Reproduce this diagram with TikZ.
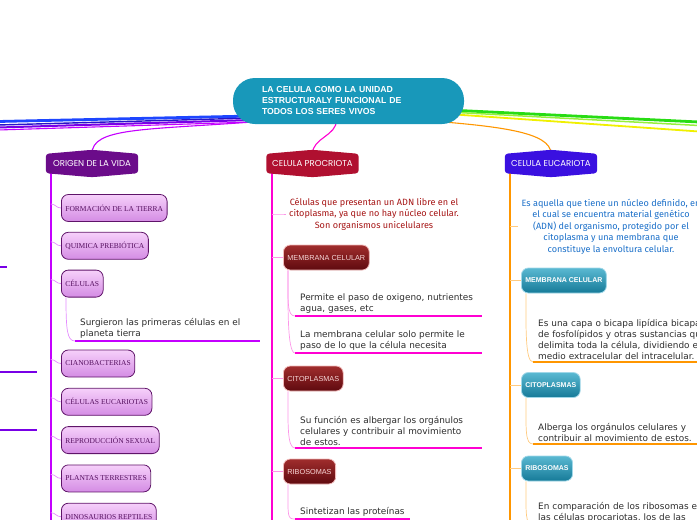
\documentclass[tikz,border=0pt]{standalone}
\usepackage{fontspec}
\setmainfont{DejaVu Sans}
\newfontfamily\rootfont{Liberation Sans}
\newfontfamily\headfont{Poppins}
\newfontfamily\tagfont{Liberation Serif}
\newfontfamily\notefont{Fira Sans}
\usepackage{tikz}
\usetikzlibrary{positioning,backgrounds,calc}

\definecolor{rootblue}{RGB}{24,152,186}
\definecolor{origpurple}{RGB}{107,12,138}
\definecolor{procrim}{RGB}{176,16,48}
\definecolor{euviolet}{RGB}{58,16,224}
\definecolor{ovio}{RGB}{196,0,255}
\definecolor{promag}{RGB}{255,0,210}
\definecolor{prolight}{RGB}{252,150,232}
\definecolor{eorange}{RGB}{255,150,0}
\definecolor{oboxtop}{RGB}{246,208,250}
\definecolor{oboxbot}{RGB}{212,140,228}
\definecolor{oboxline}{RGB}{95,20,105}
\definecolor{oboxtext}{RGB}{85,15,95}
\definecolor{pboxtop}{RGB}{160,45,45}
\definecolor{pboxbot}{RGB}{95,10,15}
\definecolor{pboxline}{RGB}{240,185,185}
\definecolor{pboxtext}{RGB}{248,215,215}
\definecolor{eboxtop}{RGB}{90,185,210}
\definecolor{eboxbot}{RGB}{22,122,152}
\definecolor{eboxline}{RGB}{160,215,232}
\definecolor{leafgray}{RGB}{45,45,45}
\definecolor{prored}{RGB}{165,20,20}
\definecolor{eublue}{RGB}{25,110,200}
\definecolor{lnkblue}{RGB}{30,70,255}
\definecolor{lnknavy}{RGB}{40,20,200}
\definecolor{lnkpurple}{RGB}{120,0,230}
\definecolor{lnkgreen}{RGB}{40,220,20}
\definecolor{lnklime}{RGB}{150,240,60}
\definecolor{lnkyellow}{RGB}{240,240,0}

\begin{document}
\begin{tikzpicture}[
    x=1pt, y=-1pt,
    root/.style={rounded corners=22pt, fill=rootblue, text=white, align=left, text width=173pt, inner xsep=29pt, inner ysep=0pt, minimum height=46pt, font=\rootfont\bfseries\fontsize{8.7}{11}\selectfont},
    hexa/.style={text=white, minimum width=92pt, minimum height=19pt, inner sep=0pt, font=\headfont\fontsize{8.6}{9}\selectfont},
    obox/.style={anchor=west, draw=oboxline, line width=0.8pt, rounded corners=7pt, top color=oboxtop, bottom color=oboxbot, text=oboxtext, minimum height=27pt, inner xsep=4pt, font=\tagfont\fontsize{7.5}{9}\selectfont},
    pbox/.style={anchor=west, draw=pboxline, line width=0.8pt, rounded corners=7pt, top color=pboxtop, bottom color=pboxbot, text=pboxtext, minimum height=25pt, inner xsep=4pt, font=\rootfont\fontsize{7.3}{9}\selectfont},
    ebox/.style={pbox, draw=eboxline, top color=eboxtop, bottom color=eboxbot, text=white, font=\rootfont\bfseries\fontsize{7}{9}\selectfont},
    leaf/.style={anchor=south west, align=left, inner xsep=5pt, inner ysep=2.5pt, text=leafgray, font=\fontsize{8.9}{11}\selectfont},
    note/.style={align=center, font=\notefont\fontsize{9.1}{11.5}\selectfont},
    spine/.style={line width=2pt},
    otwig/.style={draw=ovio!45, line width=0.7pt},
    ptwig/.style={draw=prolight, line width=0.7pt},
    etwig/.style={draw=eorange!50, line width=0.7pt},
    oline/.style={draw=ovio, line width=2.5pt},
    pline/.style={draw=promag, line width=2.5pt},
    eline/.style={draw=eorange, line width=2.5pt}
]
    \useasboundingbox (0,0) rectangle (697,520);
    \clip (0,0) rectangle (697,520);

    % central topic and main branches
    \node[root] (root) at (348.5,101) {LA CELULA COMO LA UNIDAD\\ESTRUCTURALY FUNCIONAL DE\\TODOS LOS SERES VIVOS};
    \node[hexa] (origen) at (92,163.5) {ORIGEN DE LA VIDA};
    \node[hexa] (prokar) at (312.5,163.5) {CELULA PROCRIOTA};
    \node[hexa] (eukar) at (551,163.5) {CELULA EUCARIOTA};

    \coordinate (rl) at ([shift={(-96,16)}]root.center);
    \coordinate (rr) at ([shift={(100,11)}]root.center);
    \coordinate (rb) at ([shift={(-12,19)}]root.center);
    \coordinate (rbr) at ([shift={(70,19)}]root.center);
    \coordinate (offA) at (-2,121.5);
    \coordinate (offB) at (-2,125);
    \coordinate (offC) at (-2,127.5);
    \coordinate (offD) at (-2,130);
    \coordinate (offE) at (699,122);
    \coordinate (offF) at (699,125.5);
    \coordinate (offG) at (699,131.5);
    \coordinate (oSp) at ([xshift=5pt]origen.south west);
    \coordinate (pSp) at ([xshift=5.5pt]prokar.south west);
    \coordinate (eSp) at ([xshift=5pt]eukar.south west);

    % ORIGEN DE LA VIDA
    \node[obox] (fm) at (61,208) {FORMACIÓN DE LA TIERRA};
    \node[obox, below=10pt of fm.south west, anchor=north west] (qp) {QUIMICA PREBIÓTICA};
    \node[obox, below=10pt of qp.south west, anchor=north west] (cel) {CÉLULAS};
    \node[leaf, text width=175pt] (ocl) at (75,341) {Surgieron las primeras células en el\\planeta tierra};
    \node[obox] (cia) at (61,363.5) {CIANOBACTERIAS};
    \node[obox, below=10.5pt of cia.south west, anchor=north west] (ceu) {CÉLULAS EUCARIOTAS};
    \node[obox, below=10.5pt of ceu.south west, anchor=north west] (rep) {REPRODUCCIÓN SEXUAL};
    \node[obox, below=10.5pt of rep.south west, anchor=north west] (pla) {PLANTAS TERRESTRES};
    \node[obox, below=10.5pt of pla.south west, anchor=north west] (din) {DINOSAURIOS REPTILES};

    % CELULA PROCRIOTA
    \node[note, text=prored] (pdesc) at (374,214) {Células que presentan un ADN libre en el\\citoplasma, ya que no hay núcleo celular.\\Son organismos unicelulares};
    \node[pbox] (pmem) at (283,257.5) {MEMBRANA CELULAR};
    \node[leaf, text width=177pt] (pm1) at (295,316) {Permite el paso de oxigeno, nutrientes\\agua, gases, etc};
    \node[leaf, text width=177pt] (pm2) at (295,353) {La membrana celular solo permite le\\paso de lo que la célula necesita};
    \node[pbox] (pcit) at (283,378.5) {CITOPLASMAS};
    \node[leaf, text width=177pt] (pc1) at (295,448) {Su función es albergar los orgánulos\\celulares y contribuir al movimiento\\de estos.};
    \node[pbox] (prib) at (283,471.5) {RIBOSOMAS};
    \node[leaf] (pr1) at (295,519) {Sintetizan las proteínas};

    % CELULA EUCARIOTA
    \node[note, text=eublue] (edesc) at (611,226.5) {Es aquella que tiene un núcleo definido, en\\el cual se encuentra material genético\\(ADN) del organismo, protegido por el\\citoplasma y una membrana que\\constituye la envoltura celular.};
    \node[ebox] (emem) at (521,280.5) {MEMBRANA CELULAR};
    \node[leaf, text width=200pt] (em1) at (533,362) {Es una capa o bicapa lipídica bicapa\\de fosfolípidos y otras sustancias que\\delimita toda la célula, dividiendo el\\medio extracelular del intracelular.};
    \node[ebox] (ecit) at (521,385) {CITOPLASMAS};
    \node[leaf, text width=200pt] (ec1) at (533,444) {Alberga los orgánulos celulares y\\contribuir al movimiento de estos.};
    \node[ebox] (erib) at (521,468.5) {RIBOSOMAS};
    \node[leaf, text width=200pt] (er1) at (533,525) {En comparación de los ribosomas en\\las células procariotas, los de las};

    % all connectors behind the shapes
    \begin{scope}[on background layer]
        % spines
        \foreach \s/\c in {oSp/ovio, pSp/promag, eSp/eorange}
            \draw[spine, \c] (\s) -- ++(0,355);

        % twigs from the spines
        \foreach \n in {fm,qp,cel,cia,ceu,rep,pla,din}
            \draw[otwig] ([yshift=4pt]oSp |- \n.west) .. controls +(5,0) and +(-5,0) .. (\n.west);
        \foreach \n in {pdesc,pmem,pcit,prib}
            \draw[ptwig] (pSp |- \n.west) .. controls +(5,0) and +(-5,0) .. (\n.west);
        \foreach \n in {edesc,emem,ecit,erib}
            \draw[etwig] (eSp |- \n.west) .. controls +(5,0) and +(-5,0) .. (\n.west);

        % leaves under their boxes
        \draw[otwig] ([xshift=5pt]cel.south west) .. controls +(0,32) and +(-8,0) .. (ocl.south west);
        \foreach \b/\n in {pmem/pm1, pmem/pm2, pcit/pc1, prib/pr1}
            \draw[ptwig] ([xshift=5pt]\b.south west) .. controls +(0,32) and +(-8,0) .. (\n.south west);
        \foreach \b/\n in {emem/em1, ecit/ec1, erib/er1}
            \draw[etwig] ([xshift=5pt]\b.south west) .. controls +(0,32) and +(-8,0) .. (\n.south west);

        % links from the central topic
        \draw[line width=2.8pt, lnkblue] ([yshift=1pt]rl) -- (offA);
        \draw[line width=1.4pt, lnknavy] ([yshift=-1pt]rl) -- (offB);
        \draw[line width=2pt, lnkpurple] ([yshift=-3pt]rl) -- (offC);
        \draw[line width=1.1pt, ovio] ([yshift=-5pt]rl) -- (offD);
        \draw[line width=2.8pt, lnkgreen] ([yshift=2pt]rr) -- (offE);
        \draw[line width=1.5pt, lnklime] (rr) -- (offF);
        \draw[line width=1.8pt, lnkyellow] ([yshift=-2pt]rr) -- (offG);
        \draw[line width=1.1pt, ovio] ([yshift=-5pt]rl) .. controls +(-110,8) and +(0,-26) .. (origen.north);
        \draw[line width=1.1pt, promag] (rb) .. controls +(0,16) and +(0,-16) .. (prokar.north);
        \draw[line width=1.1pt, eorange] (rbr) .. controls +(80,6) and +(0,-22) .. (eukar.north);
        \foreach \n/\c in {origen/origpurple, prokar/procrim, eukar/euviolet}
            \fill[\c, rounded corners=3pt] (\n.north west) -- ([yshift=4pt]\n.north) -- (\n.north east)
                -- (\n.south east) -- ([yshift=-4pt]\n.south) -- (\n.south west) -- cycle;
    \end{scope}

    % underlines
    \draw[oline] (ocl.south west) -- (ocl.south east);
    \foreach \n in {pm1,pm2,pc1,pr1}
        \draw[pline] (\n.south west) -- (\n.south east);
    \foreach \n in {em1,ec1,er1}
        \draw[eline] (\n.south west) -- (\n.south east);

    % underlines of a branch beyond the left edge
    \draw[line width=2.5pt, lnkpurple] (-2,267) -- (7,267);
    \draw[line width=2.5pt, lnkpurple] (-2,372) -- (37,372);
    \draw[line width=2.5pt, lnkpurple] (-2,430) -- (37,430);
\end{tikzpicture}
\end{document}
